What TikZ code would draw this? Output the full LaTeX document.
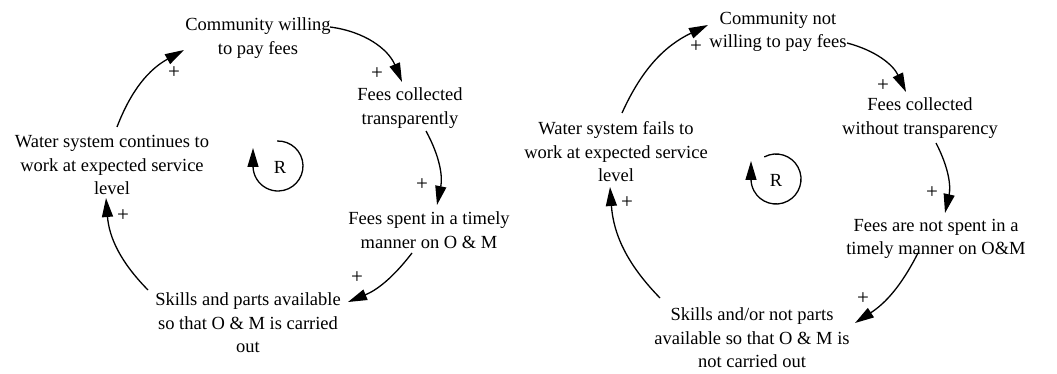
\documentclass[tikz,border=0pt]{standalone}
\usepackage{fontspec}
\setmainfont{Liberation Serif}
\newfontfamily\serf{Liberation Serif}
\usetikzlibrary{arrows.meta,calc}
\begin{document}
\begin{tikzpicture}[x=1pt,y=-1pt,
  lbl/.style={align=center,inner sep=0pt,font=\serf\fontsize{18.5}{23.5}\selectfont},
  pl/.style={inner sep=0pt,font=\serf\fontsize{21}{22}\selectfont},
  arr/.style={line width=1.3pt,-{Triangle[length=19pt,width=11pt]}}]
\useasboundingbox (0,0) rectangle (1057,374);
% left loop
\node[lbl] (cw) at (258,38) {Community willing\\to pay fees};
\node[lbl] (fc) at (410,108) {Fees collected\\transparently};
\node[lbl] (fs) at (429,230) {Fees spent in a timely\\manner on O \& M};
\node[lbl] (sk) at (248,323) {Skills and parts available\\so that O \& M is carried\\out};
\node[lbl] (ws) at (112,165) {Water system continues to\\work at expected service\\level};
\node[lbl] (rl) at (280,167) {R};
\draw[arr] ($(cw)+(72,-11)$) to[bend left=30] ($(fc)+(-8,-26)$);
\draw[arr] ($(fc)+(16,23)$) to[bend left=20] ($(fs)+(8,-25)$);
\draw[arr] ($(fs)+(-17,23)$) to[bend left=15] ($(sk)+(100,-21)$);
\draw[arr] ($(sk)+(-100,-33)$) to[bend left=20] ($(ws)+(-6,33)$);
\draw[arr] ($(ws)+(5,-38)$) to[bend left=20] ($(cw)+(-74,12)$);
\node[pl] (p1) at (377,74) {+};
\node[pl] (p2) at (422,185) {+};
\node[pl] (p3) at (357,278) {+};
\node[pl] (p4) at (123,216) {+};
\node[pl] (p5) at (174,73) {+};
\draw[arr] ($(rl)+(-2,-1)+(-92:25)$) arc[start angle=-92,end angle=180,radius=25] -- ++(0,-18);
% right loop
\node[lbl] (cn) at (778,32) {Community not\\willing to pay fees};
\node[lbl] (fw) at (920,118) {Fees collected\\without transparency};
\node[lbl] (fn) at (936,239) {Fees are not spent in a\\timely manner on O\&M};
\node[lbl] (sn) at (752,338) {Skills and/or not parts\\available so that O \& M is\\not carried out};
\node[lbl] (wf) at (616,152) {Water system fails to\\work at expected service\\level};
\node[lbl] (rr) at (776,180) {R};
\draw[arr] ($(cn)+(69,11)$) to[bend left=25] ($(fw)+(-14,-26)$);
\draw[arr] ($(fw)+(16,25)$) to[bend left=20] ($(fn)+(9,-26)$);
\draw[arr] ($(fn)+(-18,14)$) to[bend left=15] ($(sn)+(103,-15)$);
\draw[arr] ($(sn)+(-92,-40)$) to[bend left=20] ($(wf)+(-6,35)$);
\draw[arr] ($(wf)+(6,-39)$) to[bend left=20] ($(cn)+(-70,-7)$);
\node[pl] (q1) at (883,86) {+};
\node[pl] (q2) at (932,193) {+};
\node[pl] (q3) at (863,299) {+};
\node[pl] (q4) at (627,203) {+};
\node[pl] (q5) at (696,47) {+};
\draw[arr] ($(rr)+(0,-1)+(-118:25)$) arc[start angle=-118,end angle=180,radius=25] -- ++(0,-18);
\end{tikzpicture}
\end{document}
